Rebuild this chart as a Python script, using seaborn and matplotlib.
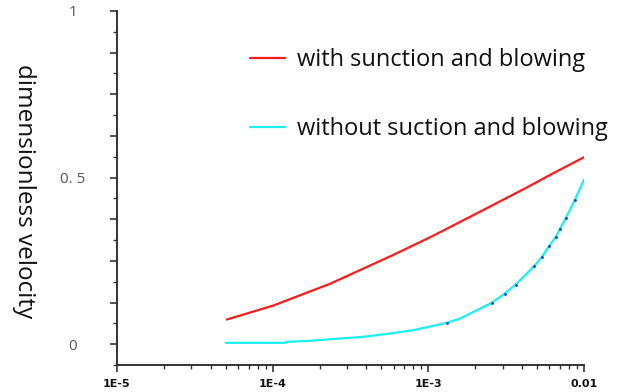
import pandas as pd
import matplotlib
matplotlib.use("Agg")
import matplotlib.pyplot as plt
import matplotlib.ticker as mticker
import seaborn as sns

# values
x_with = [5.07e-5, 1.01e-4, 2.33e-4, 5.96e-4, 1.08e-3, 2.61e-3, 4.28e-3, 6.34e-3, 1e-2]
y_with = [0.074, 0.116, 0.181, 0.268, 0.326, 0.418, 0.470, 0.513, 0.561]

x_without = [5e-5, 1.2e-4, 1.22e-4, 1.74e-4, 2.7e-4, 3.82e-4, 5.67e-4, 8.0e-4,
             1.31e-3, 1.6e-3, 2.55e-3, 3.1e-3, 3.64e-3, 4.79e-3, 5.34e-3, 5.98e-3,
             6.6e-3, 7.0e-3, 7.65e-3, 8.75e-3, 1e-2]
y_without = [0.004, 0.004, 0.007, 0.01, 0.017, 0.022, 0.032, 0.042,
             0.064, 0.077, 0.124, 0.152, 0.179, 0.234, 0.261, 0.295,
             0.323, 0.346, 0.379, 0.434, 0.494]

x_ticks = [1e-5, 1e-4, 1e-3, 1e-2]
x_ticklabels = ["1E-5", "1E-4", "1E-3", "0.01"]
y_labelled = {0.0: "0", 0.5: "0. 5", 1.0: "1"}

labels = ["with sunction and blowing", "without suction and blowing"]

df_with = pd.DataFrame({"x": x_with, "y": y_with})
df_without = pd.DataFrame({"x": x_without, "y": y_without})

sns.set_style("ticks")
plt.rcParams["font.family"] = ["Open Sans", "DejaVu Sans"]

fig = plt.figure(figsize=(6.24, 3.92), dpi=100)
ax = fig.add_axes([117 / 624, 1 - 365 / 392, 467 / 624, 354 / 392])

sns.lineplot(data=df_with, x="x", y="y", ax=ax, color="#ff1a1a", linewidth=1.6,
             label=labels[0], estimator=None, sort=False)
sns.lineplot(data=df_without, x="x", y="y", ax=ax, color="#19f0f0", linewidth=1.6,
             label=labels[1], estimator=None, sort=False)
# small dark-blue dots sitting on the cyan curve
sns.scatterplot(data=df_without.iloc[[8] + list(range(10, 20))], x="x", y="y", ax=ax,
                color="#2030d0", s=4, linewidth=0, legend=False, zorder=3)

ax.set_xscale("log")
ax.set_xlim(1e-5, 1e-2)
ax.set_ylim(-0.0625, 1.0)

ax.xaxis.set_major_locator(mticker.FixedLocator(x_ticks))
ax.xaxis.set_major_formatter(mticker.FixedFormatter(x_ticklabels))
ax.xaxis.set_minor_locator(mticker.LogLocator(base=10, subs=range(2, 10)))
ax.xaxis.set_minor_formatter(mticker.NullFormatter())

ax.yaxis.set_major_locator(mticker.MultipleLocator(0.125))
ax.yaxis.set_minor_locator(mticker.MultipleLocator(0.0625))
ax.yaxis.set_major_formatter(mticker.FuncFormatter(
    lambda v, p: y_labelled.get(round(v, 4), "")))

for s in ["top", "right"]:
    ax.spines[s].set_visible(False)
for s in ["left", "bottom"]:
    ax.spines[s].set_linewidth(1.4)
    ax.spines[s].set_color("#333333")

ax.tick_params(axis="x", which="major", length=5, width=1.2, color="#333333",
               pad=5, labelsize=8, labelcolor="#111111")
ax.tick_params(axis="x", which="minor", length=3, width=1.0, color="#333333")
ax.tick_params(axis="y", which="major", length=5, width=1.2, color="#333333",
               pad=27, labelsize=11, labelcolor="#555555")
ax.tick_params(axis="y", which="minor", length=3, width=1.0, color="#333333")
for t in ax.get_xticklabels():
    t.set_fontweight("bold")
    t.set_family(["DejaVu Sans"])
for t in ax.get_yticklabels():
    t.set_horizontalalignment("center")

ax.set_xlabel("")
ax.set_ylabel("dimensionless velocity", fontsize=17.5, rotation=270, color="#111111")
ax.yaxis.set_label_coords(-0.225, 0.49)

leg = ax.legend(loc="upper left", bbox_to_anchor=(250 / 624, 1 - 48 / 392),
                bbox_transform=fig.transFigure, frameon=False, fontsize=17,
                handlelength=1.5, handletextpad=0.48, labelspacing=1.9,
                borderpad=0, borderaxespad=0)
for t in leg.get_texts():
    t.set_color("#111111")

fig.savefig("out.png", dpi=100)
